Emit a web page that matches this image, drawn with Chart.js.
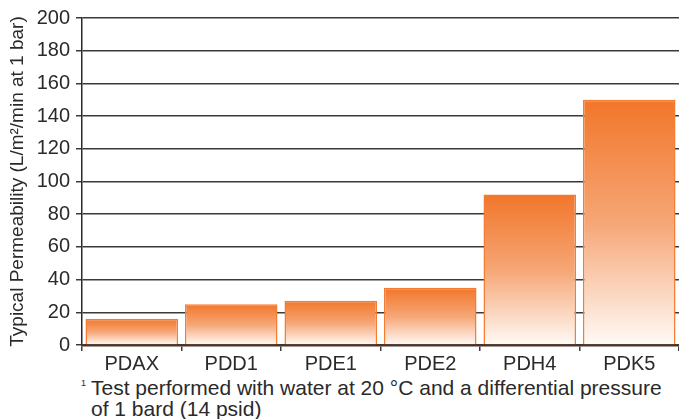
<!DOCTYPE html>
<html>
<head>
<meta charset="utf-8">
<script src="https://cdn.jsdelivr.net/npm/chart.js@4.4.1/dist/chart.umd.min.js"></script>
<style>
  html, body { margin: 0; padding: 0; background: #fff; }
  #wrap { position: relative; width: 679px; height: 419px; overflow: hidden; }
  #chart { position: absolute; left: 0; top: 0; }
  .note {
    position: absolute; left: 81px; top: 373px;
    font-family: 'Liberation Sans', Arial, sans-serif;
    font-size: 21px; line-height: 21px; color: #2a2a2a; white-space: nowrap;
  }
  .note sup { font-size: 9px; vertical-align: 9px; margin-right: 5px; }
  .note .l2 { padding-left: 10px; }
</style>
</head>
<body>
<div id="wrap">
  <canvas id="chart" width="679" height="371"></canvas>
  <div class="note"><sup>1</sup>Test performed with water at 20 °C and a differential pressure<br><span class="l2">of 1 bard (14 psid)</span></div>
</div>
<script>
// ===== Chart data =====
const grades = ['PDAX', 'PDD1', 'PDE1', 'PDE2', 'PDH4', 'PDK5'];
const permeability = [16, 25, 27, 35, 92, 150];
const yTicks = [0, 20, 40, 60, 80, 100, 120, 140, 160, 180, 200];

const FONT = "'Liberation Sans', Arial, sans-serif";

function barGradient(context) {
  const chart = context.chart;
  const { ctx, chartArea, scales } = chart;
  if (!chartArea || !scales.y) return '#f37a2f';
  const top = scales.y.getPixelForValue(context.raw);
  const bottom = scales.y.getPixelForValue(0);
  const g = ctx.createLinearGradient(0, top, 0, bottom);
  g.addColorStop(0, '#f2762a');
  g.addColorStop(0.5, '#f6a676');
  g.addColorStop(1, '#fffaf6');
  return g;
}

new Chart(document.getElementById('chart'), {
  type: 'bar',
  data: {
    labels: grades,
    datasets: [{
      data: permeability,
      backgroundColor: barGradient,
      borderColor: '#f47d35',
      borderWidth: { top: 1.5, left: 1.5, right: 1.5, bottom: 0 },
      borderSkipped: 'bottom',
      barPercentage: 0.93,
      categoryPercentage: 1.0
    }]
  },
  options: {
    responsive: false,
    animation: false,
    layout: { padding: { top: 14, right: 0, left: 0, bottom: 0 } },
    plugins: {
      legend: { display: false },
      tooltip: { enabled: false }
    },
    scales: {
      y: {
        min: 0,
        max: 200,
        afterBuildTicks: axis => { axis.ticks = yTicks.map(v => ({ value: v })); },
        afterFit: axis => { axis.width = 82; },
        title: {
          display: true,
          text: 'Typical Permeability (L/m²/min at 1 bar)',
          font: { family: FONT, size: 19 },
          color: '#2a2a2a',
          padding: { top: 6, bottom: 0 }
        },
        ticks: {
          font: { family: FONT, size: 20 },
          color: '#2a2a2a',
          padding: 6
        },
        grid: {
          color: '#3a3a3a',
          lineWidth: 1.5,
          tickLength: 6
        },
        border: { color: '#2a2a2a', width: 1.5 }
      },
      x: {
        afterFit: axis => { axis.height = 26; },
        ticks: {
          font: { family: FONT, size: 20 },
          color: '#2a2a2a',
          padding: 1
        },
        grid: {
          offset: true,
          drawOnChartArea: false,
          drawTicks: true,
          tickLength: 6,
          color: '#3a3a3a',
          lineWidth: 1.5
        },
        border: { color: '#4a3428', width: 2.5 }
      }
    }
  }
});
</script>
</body>
</html>
